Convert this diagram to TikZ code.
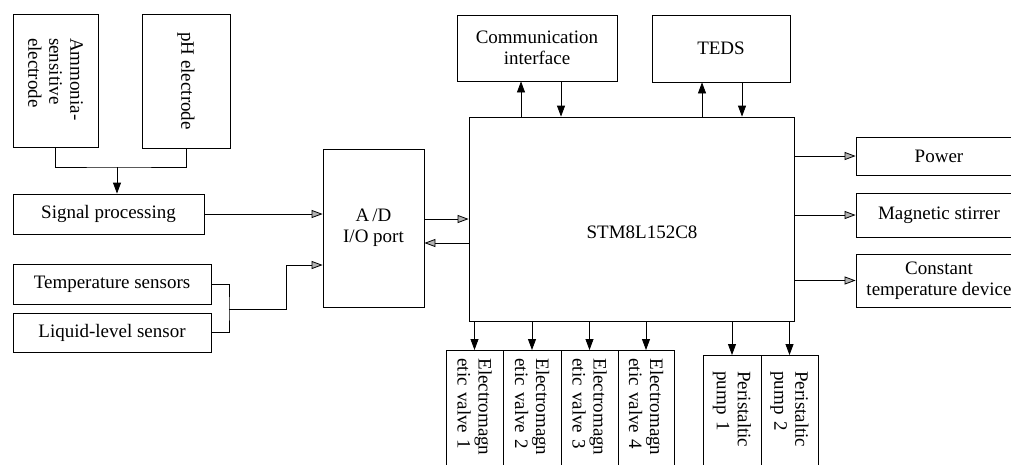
\documentclass[tikz,border=0pt]{standalone}
\usepackage{fontspec}
\setmainfont{Liberation Serif}
\usetikzlibrary{arrows.meta,calc}
\begin{document}
\begin{tikzpicture}[x=1pt,y=-1pt,
  font=\fontsize{19}{21}\selectfont,
  box/.style={draw,line width=0.8pt,inner sep=0pt,align=center},
  conn/.style={line width=0.8pt},
  harrow/.style={conn,-{Triangle[length=11pt,width=8pt,fill=gray!60]}},
  varrow/.style={conn,-{Triangle[length=11pt,width=8pt]}},
  vtext/.style={box,rotate=-90,align=left}
]
\clip (0,0) rectangle (1011,464);
\fill[white] (0,0) rectangle (1011,464);
% left column
\node[vtext,minimum width=133,minimum height=85,text width=85] (amm) at (55.5,80.5) {Ammonia-\\sensitive\\electrode};
\node[vtext,minimum width=134,minimum height=88,align=center] (ph) at (186,81) {pH electrode};
\node[box,minimum width=191,minimum height=40] (sig) at (108.5,214) {Signal processing};
\node[box,minimum width=198,minimum height=40] (temp) at (112,284) {Temperature sensors};
\node[box,minimum width=198,minimum height=39] (liq) at (112,332.5) {Liquid-level sensor};
\node[box,minimum width=101,minimum height=158] (ad) at (373.5,228) {A\,/D\\I/O port};
% main controller
\node[box,minimum width=325,minimum height=204] (stm) at (631.5,219) {};
\node (stmlabel) at (642,232) {STM8L152C8};
\node[box,minimum width=160,minimum height=66] (comm) at (537,48) {Communication\\interface};
\node[box,minimum width=138,minimum height=67] (teds) at (721,48.5) {TEDS};
% right outputs
\node[box,minimum width=166,minimum height=38] (power) at (939,156) {Power};
\node[box,minimum width=166,minimum height=44] (mag) at (939,215) {Magnetic stirrer};
\node[box,minimum width=166,minimum height=53] (ctd) at (939,280.5) {Constant\\temperature device};
% bottom outputs
\node[vtext,anchor=west,minimum height=57,text width=112,inner xsep=8pt] (v1) at (474.5,350) {Electromagn\\etic valve 1};
\node[vtext,anchor=west,minimum height=58,text width=112,inner xsep=8pt] (v2) at (532,350) {Electromagn\\etic valve 2};
\node[vtext,anchor=west,minimum height=57,text width=112,inner xsep=8pt] (v3) at (589.5,350) {Electromagn\\etic valve 3};
\node[vtext,anchor=west,minimum height=56,text width=112,inner xsep=8pt] (v4) at (646,350) {Electromagn\\etic valve 4};
\node[vtext,anchor=west,minimum height=58,text width=100,inner xsep=16pt] (p1) at (732,355) {Peristaltic\\pump 1};
\node[vtext,anchor=west,minimum height=57,text width=100,inner xsep=16pt] (p2) at (789.5,355) {Peristaltic\\pump 2};
% connectors left (rotated nodes: east anchor is the bottom side)
\coordinate (j1) at (117,167);
\draw[conn] (amm.east) |- (j1) -| (ph.east);
\draw[varrow] (j1) -- (j1 |- sig.north);
\draw[harrow] (sig.east) -- (sig.east -| ad.west);
\coordinate (j2) at (229,309);
\draw[conn] (temp.east) -| (j2) |- (liq.east);
\path (ad.west) ++(0,37) coordinate (adin2);
\draw[harrow] (j2) -- (286,309) |- (adin2);
% ad <-> stm
\path (ad.east) ++(0,-9) coordinate (adout);
\path (ad.east) ++(0,15) coordinate (adin3);
\draw[harrow] (adout) -- (adout -| stm.west);
\draw[harrow] (adin3 -| stm.west) -- (adin3);
% top
\path (comm.south) ++(-16,0) coordinate (cup);
\path (comm.south) ++(24,0) coordinate (cdn);
\draw[varrow] (cup |- stm.north) -- (cup);
\draw[varrow] (cdn) -- (cdn |- stm.north);
\path (teds.south) ++(-19,0) coordinate (tup);
\path (teds.south) ++(21,0) coordinate (tdn);
\draw[varrow] (tup |- stm.north) -- (tup);
\draw[varrow] (tdn) -- (tdn |- stm.north);
% right
\draw[harrow] (stm.east |- power.west) -- (power.west);
\draw[harrow] (stm.east |- mag.west) -- (mag.west);
\draw[harrow] (stm.east |- ctd.west) -- (ctd.west);
% bottom
\foreach \n in {v1,v2,v3,v4,p1,p2}{
  \draw[varrow] (\n.west |- stm.south) -- (\n.west);
}
\end{tikzpicture}
\end{document}
